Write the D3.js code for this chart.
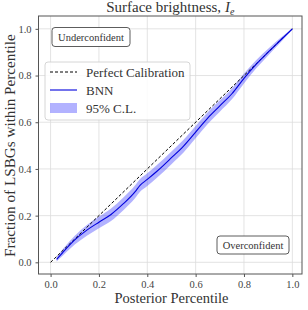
<!DOCTYPE html>
<html>
<head>
<meta charset="utf-8">
<script src="https://cdn.jsdelivr.net/npm/d3@7"></script>
<style>
  body { margin: 0; background: #fff; }
  svg { display: block; font-family: "Liberation Serif", "DejaVu Serif", serif; }
</style>
</head>
<body>
<svg width="308" height="310"></svg>
<script>
// posterior percentile grid and coverage
const percentile = [0.025, 0.05, 0.1, 0.15, 0.2, 0.25, 0.3, 0.35, 0.37, 0.4, 0.44, 0.5, 0.55, 0.6, 0.65, 0.7, 0.75, 0.8, 0.85, 0.9, 0.95, 1.0];
const bnn =        [0.013, 0.042, 0.096, 0.138, 0.172, 0.205, 0.250, 0.303, 0.330, 0.355, 0.390, 0.448, 0.498, 0.558, 0.618, 0.670, 0.722, 0.788, 0.848, 0.900, 0.950, 1.0];
const lower =      [0.004, 0.028, 0.076, 0.114, 0.146, 0.177, 0.222, 0.275, 0.302, 0.327, 0.362, 0.420, 0.470, 0.531, 0.592, 0.645, 0.698, 0.766, 0.830, 0.886, 0.940, 0.997];
const upper =      [0.022, 0.056, 0.114, 0.160, 0.196, 0.231, 0.277, 0.330, 0.357, 0.382, 0.417, 0.475, 0.525, 0.584, 0.643, 0.694, 0.745, 0.809, 0.866, 0.915, 0.961, 1.0];
const tickValues = [0.0, 0.2, 0.4, 0.6, 0.8, 1.0];

const margin = { top: 16, right: 6, bottom: 36, left: 38.5 };
const width = 308 - margin.left - margin.right;
const height = 274 - margin.top;

const svg = d3.select("svg");
const g = svg.append("g")
    .attr("transform", `translate(${margin.left},${margin.top})`);

const x = d3.scaleLinear().domain([-0.05, 1.04]).range([0, width]);
const y = d3.scaleLinear().domain([-0.05, 1.055]).range([height, 0]);

// grid
g.append("g").selectAll("line")
    .data(tickValues)
    .enter().append("line")
    .attr("x1", d => x(d)).attr("x2", d => x(d))
    .attr("y1", 0).attr("y2", height)
    .attr("stroke", "#dcdcdc").attr("stroke-width", 0.8);
g.append("g").selectAll("line")
    .data(tickValues)
    .enter().append("line")
    .attr("y1", d => y(d)).attr("y2", d => y(d))
    .attr("x1", 0).attr("x2", width)
    .attr("stroke", "#dcdcdc").attr("stroke-width", 0.8);

// confidence band
const pts = percentile.map((p, i) => ({ p, m: bnn[i], lo: lower[i], hi: upper[i] }));
g.append("path")
    .datum(pts)
    .attr("fill", "#0000ff")
    .attr("fill-opacity", 0.3)
    .attr("d", d3.area().curve(d3.curveMonotoneX).x(d => x(d.p)).y0(d => y(d.lo)).y1(d => y(d.hi)));

// perfect calibration
g.append("line")
    .attr("x1", x(0)).attr("y1", y(0))
    .attr("x2", x(1)).attr("y2", y(1))
    .attr("stroke", "#000").attr("stroke-width", 1)
    .attr("stroke-dasharray", "3,2");

// BNN
g.append("path")
    .datum(pts)
    .attr("fill", "none")
    .attr("stroke", "#0000dd")
    .attr("stroke-width", 1.1)
    .attr("d", d3.line().curve(d3.curveMonotoneX).x(d => x(d.p)).y(d => y(d.m)));

// axes
const xAxis = g.append("g")
    .attr("transform", `translate(0,${height})`)
    .call(d3.axisBottom(x).tickValues(tickValues).tickFormat(d3.format(".1f")).tickSize(3).tickPadding(4));
const yAxis = g.append("g")
    .call(d3.axisLeft(y).tickValues(tickValues).tickFormat(d3.format(".1f")).tickSize(3).tickPadding(4));
[xAxis, yAxis].forEach(a => {
    a.select(".domain").remove();
    a.selectAll("line").attr("stroke", "#555");
    a.selectAll("text").attr("font-family", "Liberation Serif, serif").attr("font-size", 10.5).attr("fill", "#444");
});

// frame
g.append("rect")
    .attr("width", width).attr("height", height)
    .attr("fill", "none").attr("stroke", "#555").attr("stroke-width", 1);

// title
const title = svg.append("text")
    .attr("x", margin.left + width / 2).attr("y", 12)
    .attr("text-anchor", "middle")
    .attr("font-size", 15).attr("fill", "#333");
title.append("tspan").text("Surface brightness, ");
title.append("tspan").attr("font-style", "italic").text("I");
title.append("tspan").attr("font-style", "italic").attr("font-size", 10).attr("dy", 3).text("e");

// axis labels
svg.append("text")
    .attr("x", margin.left + x(0.5)).attr("y", 303)
    .attr("text-anchor", "middle")
    .attr("font-size", 14.5).attr("fill", "#333")
    .text("Posterior Percentile");
svg.append("text")
    .attr("transform", `translate(15,${margin.top + y(0.5)}) rotate(-90)`)
    .attr("text-anchor", "middle")
    .attr("font-size", 15.2).attr("fill", "#333")
    .text("Fraction of LSBGs within Percentile");

// annotation boxes
function note(cx, cy, w, h, label) {
    g.append("rect")
        .attr("x", cx - w / 2).attr("y", cy - h / 2)
        .attr("width", w).attr("height", h)
        .attr("rx", 3)
        .attr("fill", "#fff").attr("stroke", "#333").attr("stroke-width", 0.8);
    g.append("text")
        .attr("x", cx).attr("y", cy + 3.5)
        .attr("text-anchor", "middle")
        .attr("font-size", 10.5).attr("fill", "#333")
        .text(label);
}
note(91 - margin.left, 37 - margin.top, 78, 19, "Underconfident");
note(253 - margin.left, 245 - margin.top, 72, 18, "Overconfident");

// legend
const leg = g.append("g").attr("transform", `translate(${45 - margin.left},${62 - margin.top})`);
leg.append("rect")
    .attr("width", 145).attr("height", 58).attr("rx", 3)
    .attr("fill", "#fff").attr("fill-opacity", 0.85)
    .attr("stroke", "#ccc").attr("stroke-width", 0.8);
const items = [
    { label: "Perfect Calibration", type: "dash" },
    { label: "BNN", type: "line" },
    { label: "95% C.L.", type: "band" }
];
items.forEach((it, i) => {
    const cy = 10 + i * 18;
    if (it.type === "dash") {
        leg.append("line").attr("x1", 5).attr("x2", 32).attr("y1", cy).attr("y2", cy)
            .attr("stroke", "#000").attr("stroke-dasharray", "3,2");
    } else if (it.type === "line") {
        leg.append("line").attr("x1", 5).attr("x2", 32).attr("y1", cy).attr("y2", cy)
            .attr("stroke", "#0000dd").attr("stroke-width", 1.1);
    } else {
        leg.append("rect").attr("x", 5).attr("y", cy - 5).attr("width", 27).attr("height", 10)
            .attr("fill", "#0000ff").attr("fill-opacity", 0.3);
    }
    leg.append("text")
        .attr("x", 41).attr("y", cy + 4.5)
        .attr("font-size", 13).attr("fill", "#333")
        .text(it.label);
});
</script>
</body>
</html>
